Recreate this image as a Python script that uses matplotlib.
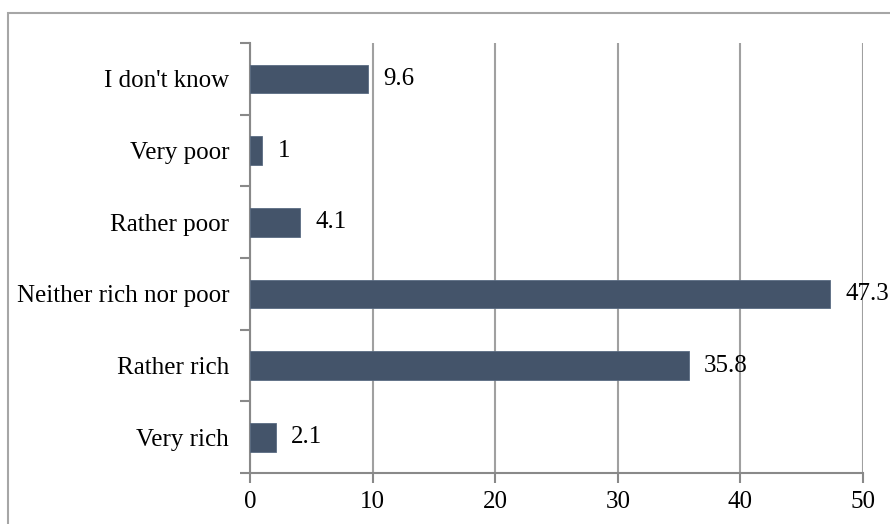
import matplotlib
matplotlib.use("Agg")
import matplotlib.pyplot as plt
from matplotlib.patches import Rectangle
from matplotlib.ticker import FixedLocator

categories = ["Very rich", "Rather rich", "Neither rich nor poor", "Rather poor", "Very poor", "I don't know"]
values = [2.1, 35.8, 47.3, 4.1, 1, 9.6]
value_labels = ["2.1", "35.8", "47.3", "4.1", "1", "9.6"]
xticks = [0, 10, 20, 30, 40, 50]

plt.rcParams['font.family'] = ['Liberation Serif', 'DejaVu Serif']

fig = plt.figure(figsize=(8.9, 5.24), dpi=100)
fig.patches.append(Rectangle((8/890, -0.2), 1.2, 1.2 - 13/524, transform=fig.transFigure,
                             fill=False, edgecolor='#A6A6A6', linewidth=1.5, clip_on=False))
ax = fig.add_axes([250/890, 51/524, 613/890, 430/524])

y = list(range(len(categories)))
ax.barh(y, values, height=0.4, color='#44546A', edgecolor='#5A6B82', linewidth=0.6, zorder=3)
for yi, v, lab in zip(y, values, value_labels):
    ax.annotate(lab, (v, yi), xytext=(11, 0), textcoords='offset points',
                va='center', ha='left', fontsize=18, color='black', zorder=4)

ax.set_xlim(0, 50)
ax.set_ylim(-0.5, len(categories) - 0.5)
ax.set_xticks(xticks)
ax.set_xticklabels([str(t) for t in xticks], fontsize=18)
ax.set_yticks(y)
ax.set_yticklabels(categories, fontsize=18)
ax.yaxis.set_minor_locator(FixedLocator([i - 0.5 for i in range(len(categories) + 1)]))
ax.tick_params(axis='y', which='major', length=0, pad=15)
ax.tick_params(axis='y', which='minor', length=7, width=1.5, color='#898989')
ax.tick_params(axis='x', which='major', length=7, width=1.5, color='#898989', pad=6)

ax.grid(axis='x', color='#A0A0A0', linewidth=1.5, zorder=0)
ax.set_axisbelow(True)
for s in ['top', 'right']:
    ax.spines[s].set_visible(False)
for s in ['left', 'bottom']:
    ax.spines[s].set_color('#898989')
    ax.spines[s].set_linewidth(1.5)

fig.savefig('out.png', dpi=100)
